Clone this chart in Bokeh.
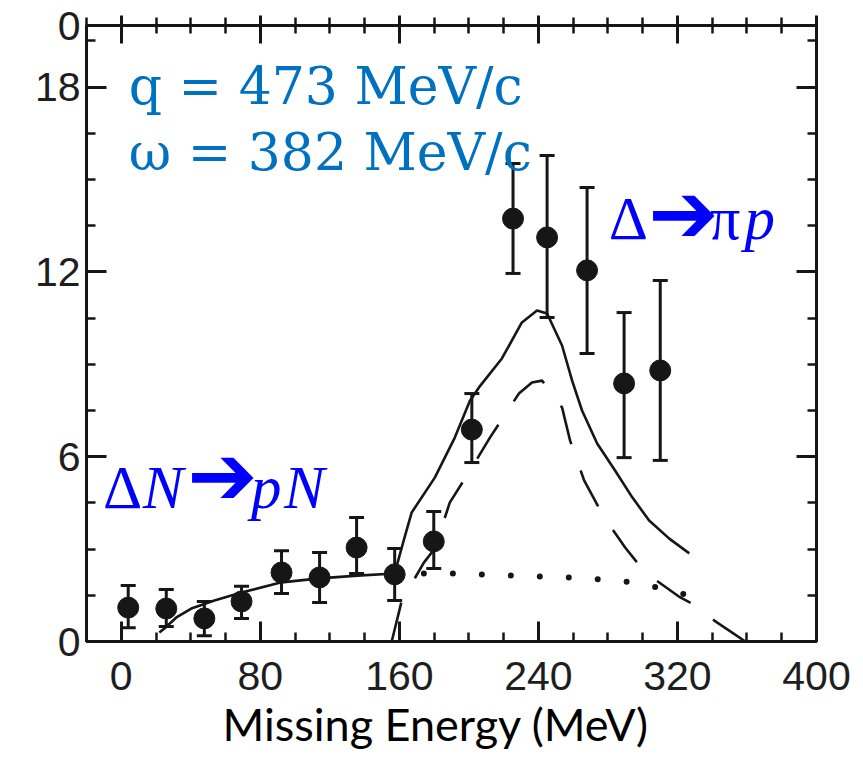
from bokeh.plotting import figure
from bokeh.models import (Range1d, LinearAxis, FixedTicker, Whisker, TeeHead,
                          ColumnDataSource, Label, Title)
from bokeh.embed import file_html
from bokeh.resources import INLINE

# ---------------- data ----------------
energy = [4.0, 25.9, 47.8, 69.2, 92.2, 114.1, 135.4, 157.3, 179.8, 201.7,
          225.4, 245.0, 268.0, 289.3, 310.1]
counts = [1.10, 1.07, 0.75, 1.30, 2.24, 2.08, 3.05, 2.18, 3.25, 6.88,
          13.73, 13.12, 12.05, 8.38, 8.80]
err_upper = [1.82, 1.69, 1.30, 1.79, 2.95, 2.89, 4.03, 3.02, 4.22, 8.05,
             15.52, 15.78, 14.74, 10.68, 11.72]
err_lower = [0.45, 0.49, 0.19, 0.75, 1.56, 1.27, 2.21, 1.33, 2.37, 5.81,
             11.95, 10.52, 9.35, 5.97, 5.88]

# Delta N -> pN (solid, low missing energy)
dn_x = [21.9, 24.8, 31.7, 40.3, 53.6, 69.2, 92.2, 114.1, 136.0, 157.3]
dn_y = [0.29, 0.42, 0.78, 1.07, 1.33, 1.59, 1.92, 2.05, 2.14, 2.21]

# total (solid, above threshold)
tot_x = [157.3, 162.5, 167.1, 180.4, 191.9, 200.6, 205.8, 219.0, 230.5, 239.2,
         245.0, 253.6, 259.4, 265.1, 273.8, 284.1, 294.0, 303.7, 315.3, 326.8]
tot_y = [2.21, 3.28, 4.19, 5.32, 6.62, 7.82, 8.25, 9.19, 10.36, 10.75,
         10.65, 9.61, 8.47, 7.50, 6.43, 5.55, 4.68, 3.93, 3.34, 2.86]

# Delta -> pi p (dashed)
pi_x = [155.6, 161.4, 167.1, 174.1, 180.4, 189.0, 203.5, 212.1, 228.8, 236.3,
        242.1, 253.6, 258.2, 266.3, 277.8, 289.9, 301.4, 321.6, 328.5, 341.2, 359.1]
pi_y = [0.0, 1.33, 1.88, 2.56, 3.02, 4.51, 5.81, 6.62, 8.05, 8.41,
        8.47, 7.60, 6.53, 5.23, 4.03, 3.05, 2.24, 1.43, 1.23, 0.68, 0.0]

# dotted component
dot_x = [174.1, 191.4, 224.8, 258.2, 276.7, 294.0, 311.2, 326.8]
dot_y = [2.21, 2.21, 2.14, 2.08, 2.01, 1.92, 1.72, 1.49]

x_major = [0, 80, 160, 240, 320, 400]
x_minor = list(range(-20, 401, 20))
y_major = [0, 6, 12, 18, 20]
y_minor = [1.5, 3, 4.5, 7.5, 9, 10.5, 13.5, 15, 16.5, 19.5]
y_overrides = {20: "0"}
x_title = "Missing Energy (MeV)"

INK = "#161616"
TICK_FONT = "Liberation Sans"

p = figure(width=863, height=771, output_backend="svg", toolbar_location=None,
           x_range=Range1d(-20, 400), y_range=Range1d(0, 20),
           x_axis_location=None, y_axis_location=None,
           min_border_left=86, min_border_right=47, min_border_top=25,
           min_border_bottom=130)
p.xgrid.visible = False
p.ygrid.visible = False
p.outline_line_color = INK
p.outline_line_width = 3
p.background_fill_color = "white"
p.border_fill_color = "white"


def style_axis(ax, label=True, tin=20, tout=0, mtin=9, mtout=0):
    ax.axis_line_color = INK
    ax.axis_line_width = 3
    ax.major_tick_line_color = INK
    ax.major_tick_line_width = 3
    ax.minor_tick_line_color = INK
    ax.minor_tick_line_width = 2.5
    ax.major_tick_in = tin
    ax.major_tick_out = tout
    ax.minor_tick_in = mtin
    ax.minor_tick_out = mtout
    if label:
        ax.major_label_text_font = TICK_FONT
        ax.major_label_text_font_size = "41px"
        ax.major_label_text_color = "#1e1e1e"
    else:
        ax.major_label_text_color = None
        ax.major_label_text_font_size = "2px"
        ax.major_label_standoff = 0


xb = LinearAxis(ticker=FixedTicker(ticks=x_major, minor_ticks=x_minor))
style_axis(xb)
xb.major_label_standoff = 20
p.add_layout(xb, "below")

# x-axis title, placed to sit centred on the page as in the reference
p.add_layout(Title(text=x_title, align="left", offset=136, standoff=4,
                   text_font="Lato", text_font_size="45px",
                   text_font_style="normal", text_color="black"), "below")

xt = LinearAxis(ticker=FixedTicker(ticks=x_major, minor_ticks=x_minor))
style_axis(xt, label=False, tin=18, tout=10, mtin=8, mtout=8)
p.add_layout(xt, "above")

yl = LinearAxis(ticker=FixedTicker(ticks=y_major, minor_ticks=y_minor))
style_axis(yl)
yl.major_label_standoff = 6
yl.major_label_overrides = y_overrides
p.add_layout(yl, "left")

yr = LinearAxis(ticker=FixedTicker(ticks=y_major, minor_ticks=y_minor))
style_axis(yr, label=False)
p.add_layout(yr, "right")

# curves
p.line(dn_x, dn_y, line_color=INK, line_width=2.6)
p.line(tot_x, tot_y, line_color=INK, line_width=2.6)
p.line(pi_x, pi_y, line_color=INK, line_width=2.6, line_dash="40 28")
p.line(dot_x, dot_y, line_color=INK, line_width=6, line_dash="0 29",
       line_cap="round")

# data points with error bars
src = ColumnDataSource(dict(x=energy, y=counts, upper=err_upper, lower=err_lower))
p.add_layout(Whisker(source=src, base="x", upper="upper", lower="lower",
                     dimension="height", line_color=INK, line_width=3,
                     upper_head=TeeHead(size=15, line_color=INK, line_width=3),
                     lower_head=TeeHead(size=15, line_color=INK, line_width=3)))
p.scatter("x", "y", source=src, size=21, fill_color=INK, line_color=INK)

# annotations
BLUE1 = "#0070C0"
BLUE2 = "#0000FF"
for yy, txt in [(18.02, "q = 473 MeV/c"), (15.90, "\u03c9 = 382 MeV/c")]:
    p.add_layout(Label(x=4.3, y=yy, text=txt, text_font="DejaVu Serif",
                       text_font_size="52px", text_color=BLUE1,
                       text_baseline="alphabetic", text_align="left"))


def piece(x, y, txt, font="Liberation Serif", size="61px", style="normal"):
    p.add_layout(Label(x=x, y=y, text=txt, text_font=font, text_font_size=size,
                       text_font_style=style, text_color=BLUE2,
                       text_baseline="alphabetic", text_align="left"))


# ΔN ➔ pN
piece(-10.5, 5.0, "\u0394")
piece(12.4, 5.0, "N", style="italic")
piece(38.0, 5.39, "\u2794", font="DejaVu Sans", size="84px")
piece(74.6, 5.0, "p", style="italic")
piece(93.6, 5.0, "N", style="italic")
# Δ ➔ πp
piece(280.5, 13.74, "\u0394")
piece(303.2, 13.9, "\u2794", font="DejaVu Sans", size="84px")
piece(338.4, 13.74, "\u03c0")
piece(358.6, 13.74, "p", style="italic")

open("out.html", "w").write(file_html(p, INLINE))
